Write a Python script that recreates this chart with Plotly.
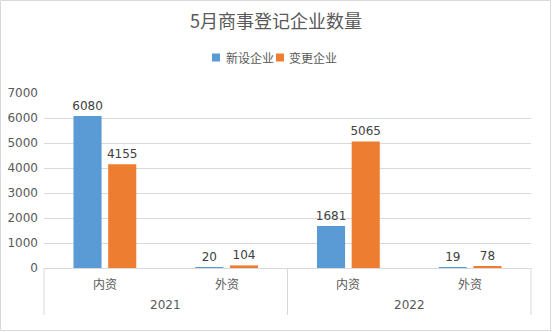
import plotly.graph_objects as go

years = ["2021", "2021", "2022", "2022"]
kinds = ["内资", "外资", "内资", "外资"]
new_firms = [6080, 20, 1681, 19]
changed_firms = [4155, 104, 5065, 78]
series_names = ["新设企业", "变更企业"]
colors = ["#5B9BD5", "#ED7D31"]
y_ticks = [0, 1000, 2000, 3000, 4000, 5000, 6000, 7000]

W, H = 552, 332
ML, MR, MT, MB = 44, 21, 93, 64
pw, ph = W - ML - MR, H - MT - MB
GRID = "#D9D9D9"
TXT = "#595959"


def px(x):
    return (x - ML) / pw


def py(y):
    return (H - MB - y) / ph


x_keys = [f"{y}|{k}" for y, k in zip(years, kinds)]

fig = go.Figure()
for name, vals, col in zip(series_names, [new_firms, changed_firms], colors):
    fig.add_trace(go.Bar(
        x=x_keys, y=vals, name=name, marker_color=col, marker_line_width=0,
        text=[str(v) for v in vals], textposition="outside",
        constraintext="none",
        textfont=dict(size=12, color="#404040", family="DejaVu Sans"),
        cliponaxis=False, showlegend=False,
    ))

shapes = [dict(type="rect", xref="paper", yref="paper",
               x0=px(0.5), x1=px(W - 1.5), y0=py(H - 1.5), y1=py(0.5),
               line=dict(color=GRID, width=1))]
annotations = []

# two-level category axis: inner labels, group labels and dividers
n = len(x_keys)
for i, k in enumerate(kinds):
    annotations.append(dict(xref="paper", yref="paper", x=(i + 0.5) / n, y=py(283),
                            text=k, showarrow=False, xanchor="center", yanchor="middle",
                            font=dict(size=12, color=TXT, family="Noto Sans CJK SC")))
groups = []
for i, y in enumerate(years):
    if not groups or groups[-1][0] != y:
        groups.append([y, i, i])
    else:
        groups[-1][2] = i
for y, a, b in groups:
    annotations.append(dict(xref="paper", yref="paper", x=(a + b + 1) / 2 / n, y=py(305),
                            text=y, showarrow=False, xanchor="center", yanchor="middle",
                            font=dict(size=12, color=TXT, family="DejaVu Sans")))
bounds = [0] + [b + 1 for _, _, b in groups]
for b in bounds:
    shapes.append(dict(type="line", xref="paper", yref="paper",
                       x0=b / n, x1=b / n, y0=0, y1=py(315),
                       line=dict(color=GRID, width=1)))

# legend
legend_items = [(212, 224), (276, 287)]
for (sq, tx), name, col in zip(legend_items, series_names, colors):
    shapes.append(dict(type="rect", xref="paper", yref="paper",
                       x0=px(sq), x1=px(sq + 8), y0=py(61.5), y1=py(53.5),
                       fillcolor=col, line=dict(width=0)))
    annotations.append(dict(xref="paper", yref="paper", x=px(tx), y=py(57.5),
                            text=name, showarrow=False, xanchor="left", yanchor="middle",
                            font=dict(size=12, color=TXT, family="Noto Sans CJK SC")))

fig.update_layout(
    width=W, height=H,
    margin=dict(l=ML, r=MR, t=MT, b=MB, autoexpand=False),
    paper_bgcolor="white", plot_bgcolor="white",
    barmode="group", bargap=0.43, bargroupgap=0.19,
    title=dict(text="5月商事登记企业数量", x=0.5, xanchor="center", xref="container",
               y=1 - 22 / H, yanchor="middle",
               font=dict(size=18, color=TXT, family="Noto Sans CJK SC")),
    shapes=shapes, annotations=annotations, showlegend=False,
)
fig.update_yaxes(range=[0, 7000], tickvals=y_ticks, showgrid=True, gridcolor=GRID,
                 zeroline=False, showline=False, automargin=False,
                 tickfont=dict(size=12, color=TXT, family="DejaVu Sans"),
                 ticklabelstandoff=5)
fig.update_xaxes(type="category", showline=True, linecolor=GRID, showticklabels=False,
                 automargin=False)

fig.write_html("out.html")
